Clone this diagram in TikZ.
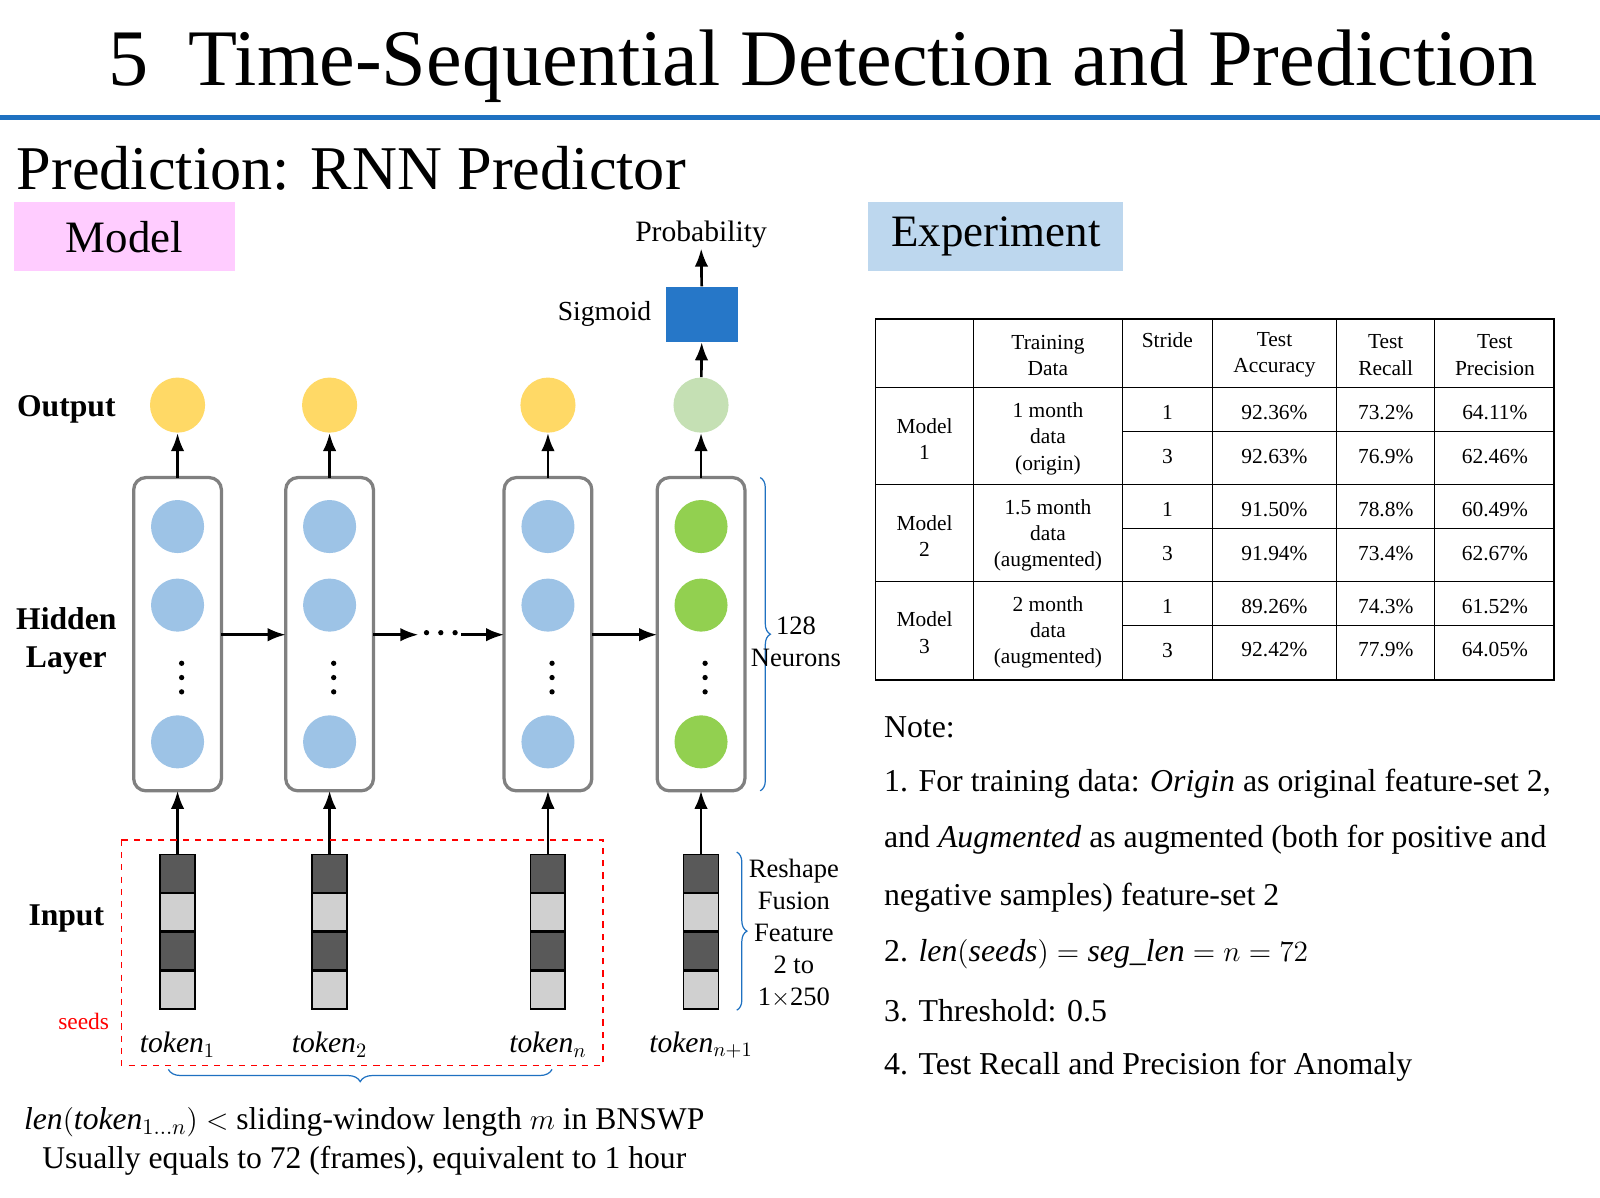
\documentclass[tikz,border=0pt]{standalone}
\usepackage{fontspec}
\setmainfont{Liberation Serif}
\usetikzlibrary{positioning, arrows.meta, calc, decorations.pathreplacing}
\definecolor{barblue}{RGB}{31,113,193}
\definecolor{pinkbox}{RGB}{255,204,255}
\definecolor{lightbluebox}{RGB}{189,215,238}
\definecolor{hidblue}{RGB}{157,195,230}
\definecolor{hidgreen}{RGB}{146,208,80}
\definecolor{outyellow}{RGB}{255,217,102}
\definecolor{outgreen}{RGB}{197,224,180}
\definecolor{sigblue}{RGB}{38,119,200}
\definecolor{darkcell}{RGB}{89,89,89}
\definecolor{lightcell}{RGB}{208,208,208}
\begin{document}
\begin{tikzpicture}[x=0.5pt, y=-0.5pt, >=Latex, every node/.style={inner sep=0pt}]
    % Define styles
    \tikzset{
        rnnbox/.style={draw=gray, line width=1.6pt, rounded corners=6pt},
        hid/.style={circle, minimum size=26pt},
        outc/.style={circle, minimum size=27pt},
        cell/.style={draw=black, line width=0.8pt, minimum width=17pt, minimum height=18.5pt},
        arr/.style={->, line width=1.3pt},
        dotc/.style={circle, fill=black, minimum size=2.6pt},
        lbl/.style={font=\fontsize{15.5}{18.5}\selectfont\bfseries, align=center},
        cellt/.style={font=\fontsize{10.5}{12.8}\selectfont, align=center},
        note/.style={font=\fontsize{15.6}{19}\selectfont, anchor=west},
        brc/.style={draw=barblue, decorate, line width=0.6pt}
    }
    \useasboundingbox (0,0) rectangle (1568,1174);
    % Header
    \node[font=\fontsize{39.3}{46}\selectfont, anchor=west] (title) at (106,65) {5\ \ Time-Sequential Detection and Prediction};
    \draw[barblue, line width=2.5pt] (0,115) -- (1568,115);
    \node[font=\fontsize{30.5}{36}\selectfont, anchor=west] (sub) at (16,165) {Prediction: RNN Predictor};
    \node[fill=pinkbox, minimum width=108pt, minimum height=34pt, font=\fontsize{22}{26}\selectfont] (model) at (122,232) {Model};
    \node[fill=lightbluebox, minimum width=125pt, minimum height=34pt, font=\fontsize{22}{26}\selectfont] (exper) at (976,232) {Experiment};
    % Left labels
    \node[lbl] (lout) at (65,401) {Output};
    \node[lbl] (lhid) at (65,628) {Hidden\\Layer};
    \node[lbl] (linp) at (65,900) {Input};
    \node[font=\fontsize{11.5}{13}\selectfont, text=red] (seeds) at (82,1001) {seeds};
    % RNN columns
    \foreach \x/\n/\hc/\oc/\t in {174/a/hidblue/outyellow/1, 323/b/hidblue/outyellow/2, 537/c/hidblue/outyellow/n, 687/d/hidgreen/outgreen/{n+1}} {
        \draw[rnnbox] (\x-43,468) rectangle (\x+43,775);
        \coordinate (top\n) at (\x,468);
        \coordinate (bot\n) at (\x,775);
        \node[hid, fill=\hc] (h1\n) at (\x,516) {};
        \node[hid, fill=\hc] (h2\n) at (\x,593) {};
        \foreach \dy in {650,664,678} \node[dotc] at (\x+4,\dy) {};
        \node[hid, fill=\hc] (h3\n) at (\x,727) {};
        \node[outc, fill=\oc] (o\n) at (\x,397) {};
        \draw[arr] (top\n) -- (o\n);
        \foreach \k/\c in {0/darkcell,1/lightcell,2/darkcell,3/lightcell}
            \node[cell, fill=\c] (c\k\n) at (\x,856+\k*38) {};
        \draw[arr] (c0\n.north) -- (bot\n);
        \node[font=\fontsize{14.5}{16}\selectfont] (tok\n) at (\x,1024) {$\mathit{token}_{\t}$};
    }
    % Recurrent arrows
    \draw[arr] (217,622) -- (280,622);
    \draw[arr] (366,622) -- (410,622);
    \foreach \dx in {418,432,446} \node[dotc] at (\dx,620) {};
    \draw[arr] (452,622) -- (494,622);
    \draw[arr] (580,622) -- (644,622);
    % Sigmoid
    \node[fill=sigblue, minimum width=35pt, minimum height=27pt] (sig) at (688,308) {};
    \node[font=\fontsize{13.5}{15}\selectfont, left=7pt of sig] (sigl) {Sigmoid};
    \node[font=\fontsize{14.5}{16}\selectfont] (prob) at (687,230) {Probability};
    \draw[arr] (od) -- (sig);
    \draw[arr] (sig) -- (prob);
    % Seeds window
    \draw[red, dashed, line width=0.8pt] (119,823) rectangle (591,1044);
    \draw[brc, decoration={brace, amplitude=6pt, mirror}] (165,1048) -- (541,1048);
    \node[font=\fontsize{15.5}{17}\selectfont] (len) at (357,1100) {$\mathit{len}(\mathit{token}_{1\ldots n}) <$ sliding-window length $m$ in BNSWP};
    \node[font=\fontsize{15.5}{17}\selectfont] (usu) at (357,1138) {Usually equals to 72 (frames), equivalent to 1 hour};
    % Right braces
    \draw[brc, decoration={brace, amplitude=5pt}] (745,468) -- (745,775);
    \node[font=\fontsize{13}{16}\selectfont, align=center] (neur) at (780,629) {128\\Neurons};
    \draw[brc, decoration={brace, amplitude=5pt}] (722,835) -- (722,990);
    \node[font=\fontsize{13}{15.7}\selectfont, align=center] (resh) at (778,915) {Reshape\\Fusion\\Feature\\2 to\\1$\times$250};
    % Table
    \draw[line width=0.9pt] (858,313) rectangle (1523,666);
    \foreach \x in {954,1100,1188,1310,1406} \draw[line width=0.7pt] (\x,313) -- (\x,666);
    \foreach \y in {380,475,570} \draw[line width=0.7pt] (858,\y) -- (1523,\y);
    \foreach \y in {423,518,613} \draw[line width=0.7pt] (1100,\y) -- (1523,\y);
    \node[cellt] (th1) at (1027,348) {Training\\Data};
    \node[cellt, anchor=north] (th2) at (1144,326) {Stride};
    \node[cellt] (th3) at (1249,348) {Test\\Accuracy};
    \node[cellt] (th4) at (1358,348) {Test\\Recall};
    \node[cellt] (th5) at (1465,348) {Test\\Precision};
    \foreach \r/\y/\m/\d in {1/428/1/{1 month\\data\\(origin)}, 2/523/2/{1.5 month\\data\\(augmented)}, 3/618/3/{2 month\\data\\(augmented)}} {
        \node[cellt] (m\r) at (906,\y+2) {Model\\\m};
        \node[cellt] (d\r) at (1027,\y+2) {\d};
    }
    \foreach \y/\s/\a/\rc/\p [count=\i] in {
        404/1/92.36\%/73.2\%/64.11\%, 447/3/92.63\%/76.9\%/62.46\%,
        499/1/91.50\%/78.8\%/60.49\%, 542/3/91.94\%/73.4\%/62.67\%,
        594/1/89.26\%/74.3\%/61.52\%, 637/3/92.42\%/77.9\%/64.05\%} {
        \node[cellt] (s\i) at (1144,\y) {\s};
        \node[cellt] (a\i) at (1249,\y) {\a};
        \node[cellt] (r\i) at (1358,\y) {\rc};
        \node[cellt] (p\i) at (1465,\y) {\p};
    }
    % Notes
    \node[note] (n0) at (866,713) {Note:};
    \node[note] (n1) at (866,768) {1. For training data: \textit{Origin} as original feature-set 2,};
    \node[note] (n2) at (866,823) {and \textit{Augmented} as augmented (both for positive and};
    \node[note] (n3) at (866,880) {negative samples) feature-set 2};
    \node[note] (n4) at (866,935) {2. $\mathit{len}(\mathit{seeds}) = \mathit{seg\_len} = n = 72$};
    \node[note] (n5) at (866,990) {3. Threshold: 0.5};
    \node[note] (n6) at (866,1045) {4. Test Recall and Precision for Anomaly};
\end{tikzpicture}
\end{document}
